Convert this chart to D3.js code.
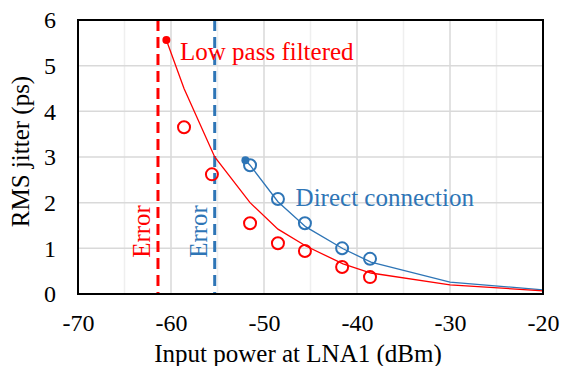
<!DOCTYPE html>
<html>
<head>
<meta charset="utf-8">
<script src="https://cdn.jsdelivr.net/npm/d3@7"></script>
<style>
  body { margin: 0; background: #fff; }
</style>
</head>
<body>
<svg id="chart" width="561" height="366"></svg>
<script>
// Measured points (open circles)
const lpfX = [-58.6, -55.6, -51.5, -48.5, -45.6, -41.6, -38.6];
const lpfY = [3.65, 2.62, 1.55, 1.11, 0.94, 0.59, 0.37];
const directX = [-51.5, -48.5, -45.6, -41.6, -38.6];
const directY = [2.82, 2.08, 1.55, 1.0, 0.77];

// Fitted curves
const lpfFitX = [-60.5, -58.6, -55.3, -51.5, -48.5, -45.5, -41.5, -38.5, -30, -20];
const lpfFitY = [5.56, 4.5, 3.0, 2.0, 1.42, 1.05, 0.66, 0.46, 0.2, 0.07];
const directFitX = [-52, -51.5, -48.5, -45.5, -41.5, -38.5, -30, -20];
const directFitY = [2.93, 2.82, 2.02, 1.47, 0.99, 0.7, 0.26, 0.09];

// Error limits
const errorX = [-61.4, -55.3];

const xTicks = [-70, -60, -50, -40, -30, -20];
const yTicks = [0, 1, 2, 3, 4, 5, 6];

const red = "#ff0000", blue = "#2e75b6";
const FONT = "Liberation Serif";

const margin = { top: 20, right: 18, bottom: 72, left: 78 },
      width = 561 - margin.left - margin.right,
      height = 366 - margin.top - margin.bottom;

const svg = d3.select("#chart").style("font-family", FONT);
const g = svg.append("g").attr("transform", `translate(${margin.left},${margin.top})`);

const x = d3.scaleLinear().domain([-70, -20]).range([0, width]);
const y = d3.scaleLinear().domain([0, 6]).range([height, 0]);

// grid
g.append("g").selectAll("line")
  .data(d3.range(-65, -20, 10))
  .enter().append("line")
    .attr("x1", d => x(d)).attr("x2", d => x(d))
    .attr("y1", 0).attr("y2", height)
    .attr("stroke", "#efefef").attr("stroke-width", 1.5);
g.append("g").selectAll("line")
  .data(xTicks.slice(1, -1))
  .enter().append("line")
    .attr("x1", d => x(d)).attr("x2", d => x(d))
    .attr("y1", 0).attr("y2", height)
    .attr("stroke", "#d9d9d9").attr("stroke-width", 1.5);
g.append("g").selectAll("line")
  .data(yTicks.slice(1, -1))
  .enter().append("line")
    .attr("x1", 0).attr("x2", width)
    .attr("y1", d => y(d)).attr("y2", d => y(d))
    .attr("stroke", "#d9d9d9").attr("stroke-width", 1.5);

// axes (labels only)
const xAxis = g.append("g")
  .attr("transform", `translate(0,${height})`)
  .call(d3.axisBottom(x).tickValues(xTicks).tickSize(0).tickPadding(20).tickFormat(d => String(d)));
xAxis.select(".domain").remove();
xAxis.style("font-family", FONT).style("font-size", "24px");
xAxis.selectAll("text").attr("fill", "#000");

const yAxis = g.append("g")
  .call(d3.axisLeft(y).tickValues(yTicks).tickSize(0).tickPadding(22).tickFormat(d => String(d)));
yAxis.select(".domain").remove();
yAxis.style("font-family", FONT).style("font-size", "24px");
yAxis.selectAll("text").attr("fill", "#000");

// error lines
g.selectAll(".err")
  .data(errorX)
  .enter().append("line")
    .attr("x1", d => x(d)).attr("x2", d => x(d))
    .attr("y1", 0).attr("y2", height)
    .attr("stroke", (d, i) => i === 0 ? red : blue)
    .attr("stroke-width", 3)
    .attr("stroke-dasharray", "11,6");

g.selectAll(".errlabel")
  .data(errorX)
  .enter().append("text")
    .attr("transform", d => `translate(${x(d) - 8},${y(1.37)}) rotate(-90)`)
    .attr("text-anchor", "middle")
    .attr("fill", (d, i) => i === 0 ? red : blue)
    .style("font-size", "25px")
    .text("Error");

// fit lines
const line = d3.line().x(d => x(d[0])).y(d => y(d[1]));
const lpfFit = lpfFitX.map((v, i) => [v, lpfFitY[i]]);
const directFit = directFitX.map((v, i) => [v, directFitY[i]]);

g.append("path").datum(directFit).attr("d", line)
  .attr("fill", "none").attr("stroke", blue).attr("stroke-width", 1.3);
g.append("path").datum(lpfFit).attr("d", line)
  .attr("fill", "none").attr("stroke", red).attr("stroke-width", 1.3);

// start dots
g.append("circle").attr("cx", x(lpfFitX[0])).attr("cy", y(lpfFitY[0])).attr("r", 4).attr("fill", red);
g.append("circle").attr("cx", x(directFitX[0])).attr("cy", y(directFitY[0])).attr("r", 4).attr("fill", blue);

// markers
g.append("g").selectAll("circle")
  .data(lpfX.map((v, i) => [v, lpfY[i]]))
  .enter().append("circle")
    .attr("cx", d => x(d[0])).attr("cy", d => y(d[1])).attr("r", 6)
    .attr("fill", "none").attr("stroke", red).attr("stroke-width", 2);
g.append("g").selectAll("circle")
  .data(directX.map((v, i) => [v, directY[i]]))
  .enter().append("circle")
    .attr("cx", d => x(d[0])).attr("cy", d => y(d[1])).attr("r", 6)
    .attr("fill", "none").attr("stroke", blue).attr("stroke-width", 2);

// series labels
g.append("text").attr("x", x(-59.03)).attr("y", y(5.12))
  .attr("fill", red).style("font-size", "25px").text("Low pass filtered");
g.append("text").attr("x", x(-46.6)).attr("y", y(1.93))
  .attr("fill", blue).style("font-size", "25px").text("Direct connection");

// plot border
g.append("rect").attr("width", width).attr("height", height)
  .attr("fill", "none").attr("stroke", "#000").attr("stroke-width", 2);

// axis titles
svg.append("text")
  .attr("x", 298).attr("y", 362)
  .attr("text-anchor", "middle").style("font-size", "25px")
  .text("Input power at LNA1 (dBm)");
svg.append("text")
  .attr("transform", `translate(29,151.5) rotate(-90)`)
  .attr("text-anchor", "middle").style("font-size", "25px")
  .text("RMS jitter (ps)");
</script>
</body>
</html>
